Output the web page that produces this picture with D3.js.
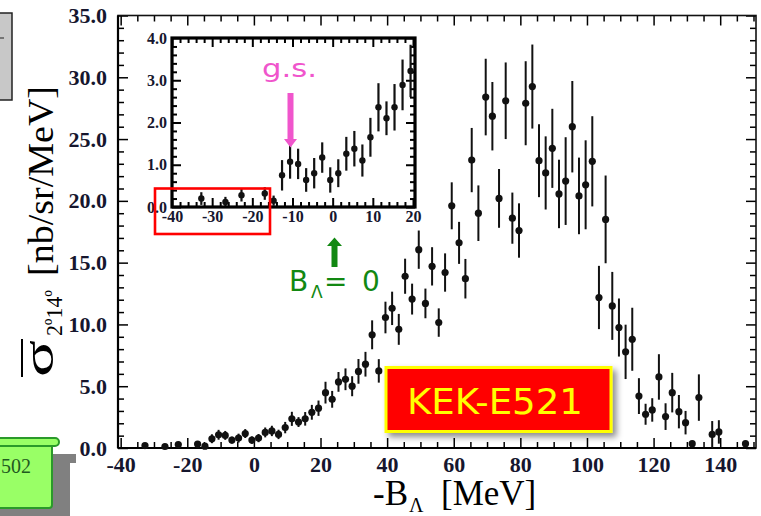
<!DOCTYPE html>
<html>
<head>
<meta charset="utf-8">
<script src="https://cdn.jsdelivr.net/npm/d3@7"></script>
<style>
  body { margin: 0; background: #fff; }
  svg { display: block; }
  .tk text { font-family: "Liberation Serif", serif; font-weight: bold; fill: #16162e; }
</style>
</head>
<body>
<svg id="chart" width="761" height="516"></svg>
<script>
// -B_lambda (MeV), cross section (nb/sr/MeV), error
var energy = [-32.7, -26.7, -22.7, -16.9, -14.7, -12.6, -10.6, -8.6, -6.6, -4.6, -2.6, -0.6, 1.4, 3.4, 5.4, 7.4,
  9.4, 11.4, 13.4, 15.4, 17.4, 19.4, 21.5, 23.5, 25.4, 27.5, 29.5, 31.4, 33.5, 35.5, 37.5, 39.5, 41.5, 43.5,
  45.4, 47.5, 49.5, 51.5, 53.5, 55.5, 57.4, 59.4, 61.6, 63.5, 65.4, 67.4, 69.6, 71.6, 73.6, 75.6, 77.6, 79.6,
  81.6, 83.6, 85.6, 87.6, 89.6, 91.6, 93.6, 95.6, 97.6, 99.6, 101.6, 103.6, 105.6, 107.6, 109.6, 111.6, 113.6,
  115.6, 117.6, 119.6, 121.6, 123.6, 125.6, 127.6, 129.6, 131.6, 133.6, 137.6, 139.6, 147.6];
var sigma = [0.2, 0.12, 0.28, 0.32, 0.15, 0.75, 1.07, 1.02, 0.64, 0.8, 1.17, 0.64, 0.8, 1.26, 1.38, 1.1,
  1.65, 2.36, 2.1, 2.36, 2.89, 3.22, 4.48, 3.94, 5.35, 5.56, 5.0, 6.2, 6.78, 9.16, 6.24, 10.56, 11.3, 9.6,
  13.9, 12.05, 16.05, 11.7, 14.7, 10.15, 14.2, 19.6, 16.6, 13.7, 23.3, 19.0, 28.4, 26.85, 20.2, 28.1, 18.6, 17.6,
  27.9, 29.25, 23.25, 22.26, 24.25, 20.56, 21.6, 26.0, 20.4, 21.3, 23.2, 12.18, 18.5, 11.5, 9.75, 7.78, 8.8,
  4.2, 2.73, 3.08, 5.75, 2.54, 4.48, 2.94, 2.05, 0.35, 4.08, 1.1, 1.3, 0.35];
var sigmaErr = [0.15, 0.12, 0.15, 0.15, 0.12, 0.36, 0.4, 0.36, 0.28, 0.36, 0.36, 0.3, 0.33, 0.4, 0.42, 0.38,
  0.46, 0.57, 0.4, 0.55, 0.6, 0.62, 0.88, 0.68, 0.8, 0.88, 0.81, 1.0, 1.0, 1.17, 0.95, 1.28, 1.35, 1.25,
  1.42, 1.25, 1.55, 1.2, 1.55, 1.15, 1.55, 1.9, 1.7, 1.6, 2.6, 2.25, 3.1, 2.77, 2.38, 3.1, 2.07, 2.2,
  3.4, 3.4, 2.95, 2.96, 3.2, 2.77, 3.55, 3.7, 3.1, 3.6, 3.65, 2.56, 3.55, 2.75, 2.35, 2.2, 2.55,
  1.45, 0.85, 0.95, 1.84, 1.08, 1.6, 1.35, 0.95, 0.12, 1.88, 1.08, 0.95, 0.12];

var xTicks = [-40, -20, 0, 20, 40, 60, 80, 100, 120, 140];
var yTicks = [0, 5, 10, 15, 20, 25, 30, 35];
var insetXTicks = [-40, -30, -20, -10, 0, 10, 20];
var insetYTicks = [0, 1, 2, 3, 4];

var points = energy.map(function(e, i) { return {e: e, s: sigma[i], err: sigmaErr[i]}; });

var svg = d3.select("#chart");
var defs = svg.append("defs");
var shadow = defs.append("filter").attr("id", "shadow")
  .attr("x", "-10%").attr("y", "-10%").attr("width", "130%").attr("height", "140%");
shadow.append("feDropShadow").attr("dx", 4).attr("dy", 4).attr("stdDeviation", 3)
  .attr("flood-color", "#000").attr("flood-opacity", 0.45);

// main scales
var x = d3.scaleLinear().domain([-40.8, 150.75]).range([118, 756]);
var y = d3.scaleLinear().domain([0, 35]).range([448, 15.5]);

function inward(g, axisFn, scale, vals, size, labels, pad, fs, sw) {
  var ax = axisFn(scale).tickValues(vals).tickSize(-size).tickPadding(pad);
  ax.tickFormat(labels ? labels : "");
  g.attr("class", "tk").call(ax);
  g.select(".domain").remove();
  g.selectAll(".tick line").attr("stroke", "#000").attr("stroke-width", sw);
  g.selectAll(".tick text").style("font-size", fs + "px");
}

var minorX = d3.range(-40, 151, 5).filter(function(v) { return v % 20 !== 0; });
var minorY = d3.range(0, 35.5, 1).filter(function(v) { return v % 5 !== 0; });
var fmtX = function(d) { return String(d); };
var fmtY = function(d) { return d.toFixed(1); };

inward(svg.append("g").attr("transform", "translate(0,448)"), d3.axisBottom, x, xTicks, 10, fmtX, 8, 22, 1.5);
inward(svg.append("g").attr("transform", "translate(0,448)"), d3.axisBottom, x, minorX, 6, null, 0, 0, 1.5);
inward(svg.append("g").attr("transform", "translate(0,15.5)"), d3.axisTop, x, xTicks, 10, null, 0, 0, 1.5);
inward(svg.append("g").attr("transform", "translate(0,15.5)"), d3.axisTop, x, minorX, 6, null, 0, 0, 1.5);
inward(svg.append("g").attr("transform", "translate(118,0)"), d3.axisLeft, y, yTicks, 10, fmtY, 11, 22, 1.5);
inward(svg.append("g").attr("transform", "translate(118,0)"), d3.axisLeft, y, minorY, 6, null, 0, 0, 1.5);
inward(svg.append("g").attr("transform", "translate(756,0)"), d3.axisRight, y, yTicks, 10, null, 0, 0, 1.5);
inward(svg.append("g").attr("transform", "translate(756,0)"), d3.axisRight, y, minorY, 6, null, 0, 0, 1.5);

svg.append("rect").attr("x", 118).attr("y", 15.5).attr("width", 638).attr("height", 432.5)
  .attr("fill", "none").attr("stroke", "#111").attr("stroke-width", 1.6);
svg.append("line").attr("x1", 118).attr("x2", 756).attr("y1", 448).attr("y2", 448)
  .attr("stroke", "#000").attr("stroke-width", 2.2);
svg.append("line").attr("x1", 118).attr("x2", 118).attr("y1", 15.5).attr("y2", 448)
  .attr("stroke", "#000").attr("stroke-width", 2.2);

function drawPoints(g, xs, ys, r, sw) {
  var sel = g.selectAll("g.pt").data(points.filter(function(p) { return p.e >= xs.domain()[0] && p.e <= xs.domain()[1]; }))
    .enter().append("g").attr("class", "pt");
  sel.append("line")
    .attr("x1", function(d) { return xs(d.e); }).attr("x2", function(d) { return xs(d.e); })
    .attr("y1", function(d) { return ys(Math.max(0, d.s - d.err)); })
    .attr("y2", function(d) { return ys(d.s + d.err); })
    .attr("stroke", "#111").attr("stroke-width", sw);
  sel.append("circle").attr("cx", function(d) { return xs(d.e); }).attr("cy", function(d) { return ys(d.s); })
    .attr("r", r).attr("fill", "#111");
}
drawPoints(svg.append("g"), x, y, 3.6, 2);

// inset
var ix = d3.scaleLinear().domain([-40, 20.5]).range([172, 415]);
var iy = d3.scaleLinear().domain([0, 4]).range([207, 38]);
svg.append("rect").attr("x", 172).attr("y", 38).attr("width", 243).attr("height", 169).attr("fill", "#fff");
defs.append("clipPath").attr("id", "insetClip").append("rect")
  .attr("x", 172).attr("y", 38).attr("width", 243).attr("height", 169);

var minorIX = d3.range(-40, 21, 2).filter(function(v) { return v % 10 !== 0; });
var minorIY = d3.range(0, 4.01, 0.2).map(function(v) { return +v.toFixed(1); }).filter(function(v) { return v % 1 !== 0; });
var fmtIY = function(d) { return d.toFixed(1); };

inward(svg.append("g").attr("transform", "translate(0,207)"), d3.axisBottom, ix, insetXTicks, 9, fmtX, 3.5, 16, 2);
inward(svg.append("g").attr("transform", "translate(0,207)"), d3.axisBottom, ix, minorIX, 5, null, 0, 0, 2);
inward(svg.append("g").attr("transform", "translate(0,38)"), d3.axisTop, ix, insetXTicks, 9, null, 0, 0, 2);
inward(svg.append("g").attr("transform", "translate(0,38)"), d3.axisTop, ix, minorIX, 5, null, 0, 0, 2);
inward(svg.append("g").attr("transform", "translate(172,0)"), d3.axisLeft, iy, insetYTicks, 9, fmtIY, 5, 16, 2);
inward(svg.append("g").attr("transform", "translate(172,0)"), d3.axisLeft, iy, minorIY, 5, null, 0, 0, 2);
inward(svg.append("g").attr("transform", "translate(415,0)"), d3.axisRight, iy, insetYTicks, 9, null, 0, 0, 2);
inward(svg.append("g").attr("transform", "translate(415,0)"), d3.axisRight, iy, minorIY, 5, null, 0, 0, 2);

drawPoints(svg.append("g").attr("clip-path", "url(#insetClip)"), ix, iy, 3.2, 2.2);

svg.append("rect").attr("x", 172).attr("y", 38).attr("width", 243).attr("height", 169)
  .attr("fill", "none").attr("stroke", "#000").attr("stroke-width", 3.2);

// red box around the low-energy part of the inset
svg.append("rect").attr("x", 155).attr("y", 188.5).attr("width", 115).attr("height", 45.5)
  .attr("fill", "none").attr("stroke", "#f00").attr("stroke-width", 2.6);

// g.s. annotation
svg.append("text").attr("x", 262).attr("y", 77).attr("textLength", 55).attr("lengthAdjust", "spacingAndGlyphs")
  .style("font-family", "'DejaVu Sans', sans-serif").style("font-size", "24px").attr("fill", "#f055cc").text("g.s.");
svg.append("path").attr("d", "M287.5,93 L293.5,93 L293.5,139 L297,139 L290.5,147.5 L284,139 L287.5,139 Z")
  .attr("fill", "#f055cc");

// B_lambda = 0 annotation
svg.append("path").attr("d", "M331.5,267 L337.5,267 L337.5,246 L342,246 L334.5,237.5 L327,246 L331.5,246 Z")
  .attr("fill", "#128812");
var bl = svg.append("text").attr("y", 291).attr("fill", "#128812")
  .style("font-family", "'DejaVu Sans', sans-serif").style("font-size", "28px");
bl.append("tspan").attr("x", 289).text("B");
bl.append("tspan").attr("x", 311).attr("dy", 7).style("font-size", "17px").text("Λ");
bl.append("tspan").attr("x", 324).attr("dy", -7).text("=");
bl.append("tspan").attr("x", 362).text("0");

// KEK-E521 label
svg.append("rect").attr("x", 386).attr("y", 367.5).attr("width", 225).attr("height", 64)
  .attr("fill", "#f00").attr("stroke", "#ff0").attr("stroke-width", 3).attr("filter", "url(#shadow)");
svg.append("text").attr("x", 407).attr("y", 414).attr("textLength", 176).attr("lengthAdjust", "spacingAndGlyphs")
  .style("font-family", "'DejaVu Sans', sans-serif").style("font-size", "36px").attr("fill", "#ff0").text("KEK-E521");

// axis titles
var xt = svg.append("text").attr("y", 505).attr("fill", "#000")
  .style("font-family", "'Liberation Serif', serif").style("font-size", "35px");
xt.append("tspan").attr("x", 373).text("-B");
xt.append("tspan").attr("x", 409).attr("dy", 7).style("font-size", "20px").text("Λ");
xt.append("tspan").attr("x", 441).attr("dy", -7).text("[MeV]");

function rotText(tx, ty, size, len, str) {
  svg.append("text").attr("transform", "translate(" + tx + "," + ty + ") rotate(-90)")
    .attr("textLength", len).attr("lengthAdjust", "spacingAndGlyphs")
    .style("font-family", "'Liberation Serif', serif").style("font-size", size + "px")
    .attr("fill", "#000").text(str);
}
rotText(53, 377, 44, 37, "σ");
rotText(62, 336, 24, 46, "2º14º");
rotText(53, 276, 36, 190, "[nb/sr/MeV]");
svg.append("line").attr("x1", 22).attr("x2", 22).attr("y1", 339).attr("y2", 377)
  .attr("stroke", "#000").attr("stroke-width", 2);

// cut-off slide shapes at the left edge
svg.append("rect").attr("x", -5).attr("y", 13).attr("width", 17).attr("height", 87)
  .attr("fill", "#c8c8c8").attr("stroke", "#222").attr("stroke-width", 1.5);
svg.append("line").attr("x1", 0).attr("x2", 4).attr("y1", 38).attr("y2", 38).attr("stroke", "#222").attr("stroke-width", 1);

svg.append("path").attr("d", "M-10,454 L76,454 L76,463 L70,463 L70,516 L-10,516 Z").attr("fill", "#808080");
svg.append("rect").attr("x", -10).attr("y", 441).attr("width", 62).attr("height", 67).attr("rx", 3)
  .attr("fill", "#99ff66").attr("stroke", "#2a9a2a").attr("stroke-width", 2);
svg.append("rect").attr("x", -10).attr("y", 438).attr("width", 69).attr("height", 8).attr("rx", 4)
  .attr("fill", "#99ff66").attr("stroke", "#2a9a2a").attr("stroke-width", 2);
svg.append("text").attr("x", 31).attr("y", 473).attr("text-anchor", "end").attr("fill", "#1f5a1f")
  .style("font-family", "'Liberation Serif', serif").style("font-size", "20px").text("502");
</script>
</body>
</html>
